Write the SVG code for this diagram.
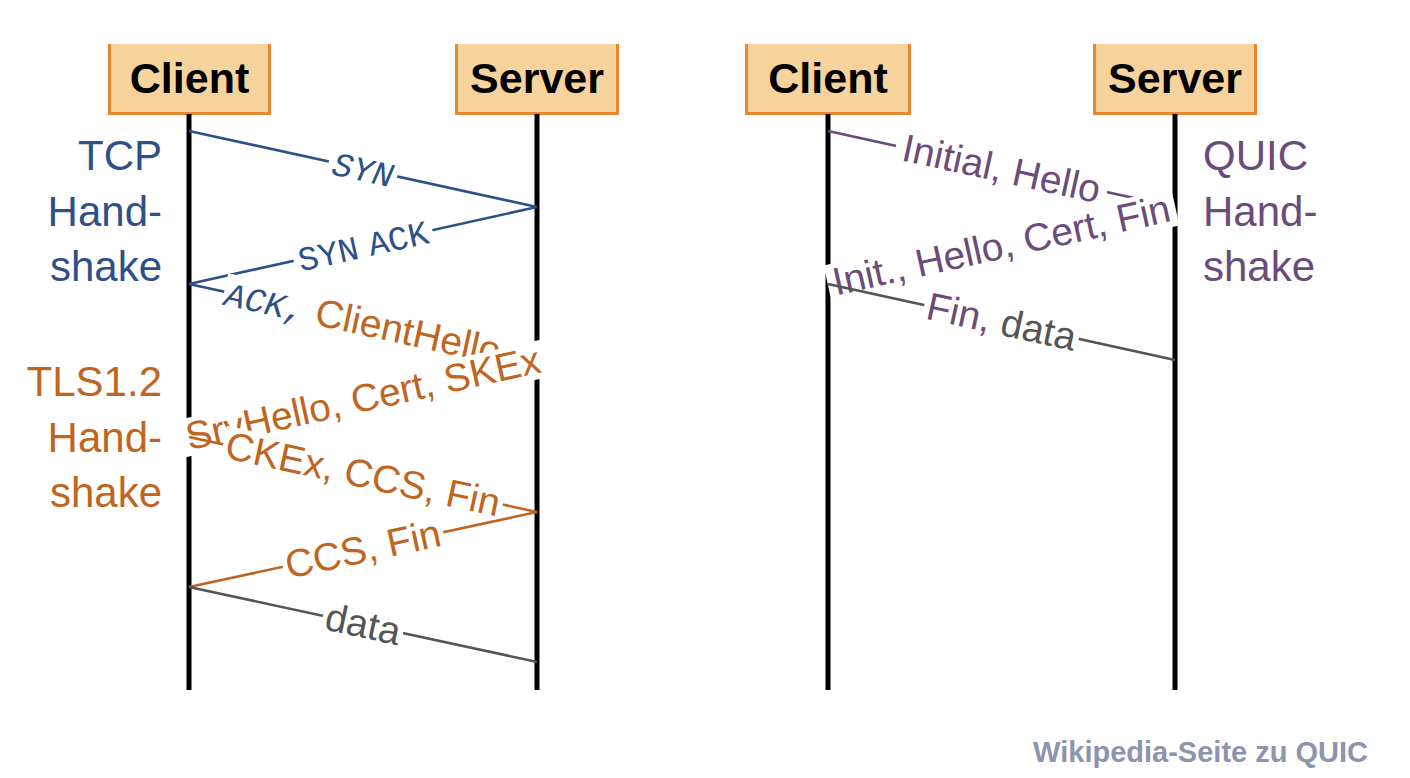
<svg xmlns="http://www.w3.org/2000/svg" width="1410" height="778" viewBox="0 0 1410 778">
<style>
.box{fill:#f6d39d}
.boxb{fill:none;stroke:#e8862e;stroke-width:3}
.head{font-family:"Liberation Sans",Arial,sans-serif;font-weight:bold;font-size:43px;fill:#000;text-anchor:middle}
.life{stroke:#000;stroke-width:5}
.side{font-family:"Liberation Sans",Arial,sans-serif;font-size:42px}
.blue{fill:#2e5088}
.orange{fill:#c0651f}
.purple{fill:#6a4b7a}
.gray{fill:#555}
.ln{fill:none;stroke-width:2.6}
.lb{stroke:#2e5088}
.lo{stroke:#c0651f}
.lp{stroke:#6a4b7a}
.lg{stroke:#555}
.bg{fill:#fff}
.lab{font-family:"Liberation Sans",Arial,sans-serif;font-size:39px;text-anchor:middle}
.mono{font-family:"Liberation Mono","Courier New",monospace;font-size:34px}
.foot{font-family:"Liberation Sans",Arial,sans-serif;font-weight:bold;font-size:29px;fill:#8c94ae;text-anchor:end}
</style>

<g id="client-tcp">
<rect class="box" x="108" y="44" width="163" height="70"/>
<path class="boxb" d="M109.5,44 V113.5 H269.5 V44"/>
<text class="head" x="189.5" y="93">Client</text>
</g>
<g id="server-tcp">
<rect class="box" x="455" y="44" width="164" height="70"/>
<path class="boxb" d="M456.5,44 V113.5 H617.5 V44"/>
<text class="head" x="537" y="93">Server</text>
</g>
<g id="client-quic">
<rect class="box" x="745" y="44" width="166" height="70"/>
<path class="boxb" d="M746.5,44 V113.5 H909.5 V44"/>
<text class="head" x="828" y="93">Client</text>
</g>
<g id="server-quic">
<rect class="box" x="1093" y="44" width="164" height="70"/>
<path class="boxb" d="M1094.5,44 V113.5 H1255.5 V44"/>
<text class="head" x="1175" y="93">Server</text>
</g>

<g id="lifelines">
<line class="life" x1="189" y1="114" x2="189" y2="690"/>
<line class="life" x1="537" y1="114" x2="537" y2="690"/>
<line class="life" x1="828" y1="114" x2="828" y2="690"/>
<line class="life" x1="1175" y1="114" x2="1175" y2="690"/>
</g>

<g id="tcp-label" class="side blue" text-anchor="end">
<text x="162" y="170">TCP</text>
<text x="162" y="226">Hand-</text>
<text x="162" y="281">shake</text>
</g>
<g id="tls-label" class="side orange" text-anchor="end">
<text x="162" y="396">TLS1.2</text>
<text x="162" y="452">Hand-</text>
<text x="162" y="507">shake</text>
</g>
<g id="quic-label" class="side purple" text-anchor="start">
<text x="1203" y="170">QUIC</text>
<text x="1203" y="226">Hand-</text>
<text x="1203" y="281">shake</text>
</g>

<g id="connectors">
<line class="ln lb" x1="189" y1="131" x2="537" y2="207"/>
<g transform="translate(363,169) rotate(12.32)">
<rect class="bg" x="-35" y="-17" width="70" height="34"/>
<text class="mono blue" font-style="italic" font-size="36" text-anchor="middle" y="12">SYN</text>
</g>

<line class="ln lb" x1="537" y1="207" x2="189" y2="284"/>
<g transform="translate(363,245.5) rotate(-12.47)">
<rect class="bg" x="-71" y="-17" width="142" height="34"/>
<text class="mono blue" text-anchor="middle" y="12" word-spacing="-10">SYN ACK</text>
</g>

<line class="ln lb" x1="189" y1="284" x2="537" y2="360"/>
<g transform="translate(363,322) rotate(12.32)">
<rect class="bg" x="-142" y="-19" width="284" height="38"/>
<text class="lab" y="13"><tspan class="mono blue" font-style="italic">ACK,</tspan><tspan class="orange"> ClientHello</tspan></text>
</g>

<line class="ln lo" x1="537" y1="360" x2="189" y2="437"/>
<g transform="translate(363,398.5) rotate(-12.47)">
<rect class="bg" x="-188" y="-19" width="376" height="38"/>
<text class="lab orange" y="13">SrvHello, Cert, SKEx</text>
</g>

<line class="ln lo" x1="189" y1="437" x2="537" y2="512"/>
<g transform="translate(363,474.5) rotate(12.16)">
<rect class="bg" x="-143" y="-19" width="286" height="38"/>
<text class="lab orange" y="13">CKEx, CCS, Fin</text>
</g>

<line class="ln lo" x1="537" y1="512" x2="189" y2="587"/>
<g transform="translate(363,549.5) rotate(-12.16)">
<rect class="bg" x="-82" y="-19" width="164" height="38"/>
<text class="lab orange" y="13">CCS, Fin</text>
</g>

<line class="ln lg" x1="189" y1="587" x2="537" y2="662"/>
<g transform="translate(363,624.5) rotate(12.16)">
<rect class="bg" x="-41" y="-19" width="82" height="38"/>
<text class="lab gray" y="13">data</text>
</g>

<line class="ln lp" x1="828" y1="131" x2="1175" y2="207"/>
<g transform="translate(1001.5,169) rotate(12.35)">
<rect class="bg" x="-108" y="-19" width="216" height="38"/>
<text class="lab purple" y="13">Initial, Hello</text>
</g>

<line class="ln lp" x1="1175" y1="207" x2="828" y2="284"/>
<g transform="translate(1001.5,245.5) rotate(-12.5)">
<rect class="bg" x="-178" y="-19" width="356" height="38"/>
<text class="lab purple" y="13">Init., Hello, Cert, Fin</text>
</g>

<line class="ln lg" x1="828" y1="284" x2="1175" y2="360"/>
<g transform="translate(1001.5,322) rotate(12.35)">
<rect class="bg" x="-79" y="-19" width="158" height="38"/>
<text class="lab" y="13"><tspan class="purple">Fin,</tspan><tspan class="gray"> data</tspan></text>
</g>
</g>

<text class="foot" x="1368" y="762">Wikipedia-Seite zu QUIC</text>
</svg>
